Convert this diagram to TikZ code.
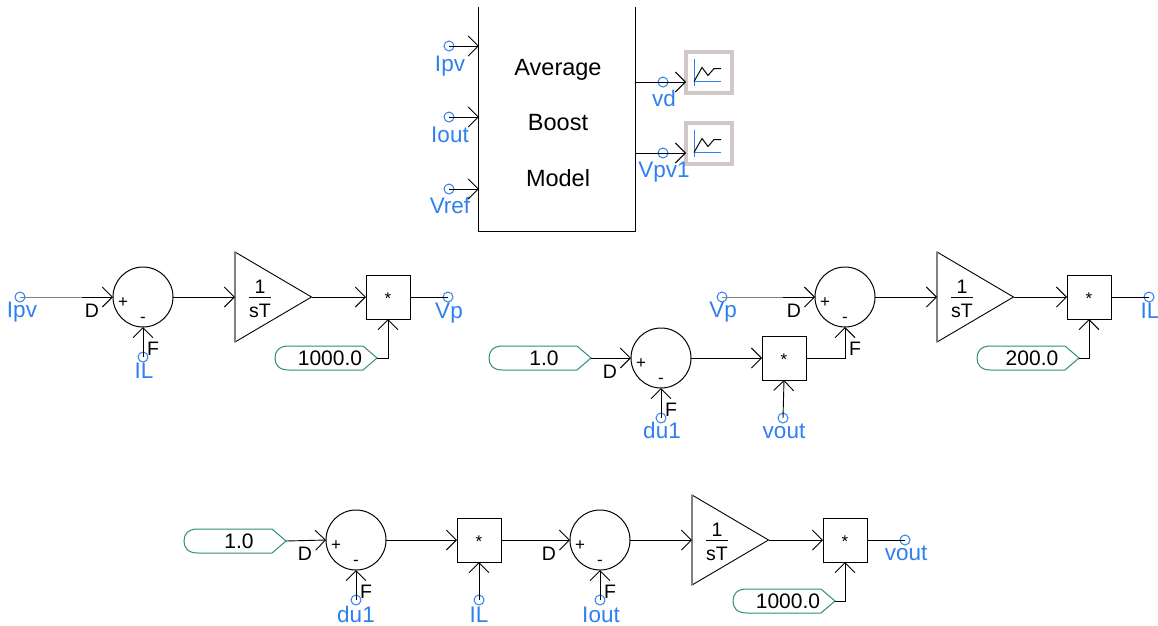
\documentclass[tikz,border=0pt]{standalone}
\usepackage{fontspec}
\setmainfont{Liberation Sans}
\usetikzlibrary{arrows.meta,shapes.geometric}
\definecolor{termblue}{RGB}{46,127,240}
\definecolor{constteal}{RGB}{46,139,125}
\definecolor{metergray}{RGB}{207,200,198}
\tikzset{
  wire/.style = {-{Straight Barb[length=10pt,width=20pt]},black,line width=.9pt},
  term/.style = {circle, draw=termblue, line width=1pt, minimum size=10pt, inner sep=0pt},
  termtext/.style = {anchor=base, inner sep=0pt, termblue, font=\fontsize{22.5}{25}\selectfont},
  blacktext/.style = {inner sep=0pt, black, font=\fontsize{21}{24}\selectfont},
  lettertext/.style = {inner sep=0pt, black, font=\fontsize{19.5}{22}\selectfont},
  signtext/.style = {inner sep=0pt, black, font=\fontsize{17}{20}\selectfont},
  sumnode/.style = {circle, draw=black, line width=1pt, minimum size=60pt, inner sep=0pt, outer sep=0pt},
  prodnode/.style = {rectangle, draw=black, line width=.9pt, minimum size=44pt, inner sep=0pt, outer sep=0pt},
  intnode/.style = {isosceles triangle, isosceles triangle stretches, draw=black, line width=.9pt,
    minimum width=90pt, minimum height=76.5pt, inner sep=0pt, outer sep=0pt, anchor=lower side},
  meternode/.style = {rectangle, draw=metergray, line width=4pt, minimum width=46pt, minimum height=41pt,
    inner sep=0pt, outer sep=0pt},
  constline/.style = {draw=constteal, line width=1pt},
  constwire/.style = {black, line width=.9pt},
}
\begin{document}
\begin{tikzpicture}[x=1pt,y=-1pt]
  \useasboundingbox (0,0) rectangle (1158,625);

  % average model block
  \node[inner sep=0pt, minimum width=156pt, minimum height=224pt] (mod) at (557,119) {};
  \node[inner sep=0pt, align=center, font=\fontsize{23.5}{55.5}\selectfont] (modtext) at (558,123) {Average\\Boost\\Model};
  \draw[black, line width=1pt] (mod.north west) -- (mod.south west) -- (mod.south east) -- (mod.north east);

  % scopes
  \foreach \x/\y/\n in {709/72.5/1, 709/143.5/2}{
    \node[meternode] (m\n) at (\x,\y) {};
    \draw[termblue, line width=1pt] (\x-15,\y-14) -- (\x-15,\y+13);
    \draw[termblue, line width=1pt] (\x-15,\y+9) -- (\x+12,\y+9);
    \draw[black, line width=1pt] (\x-15,\y+9) -- (\x-7,\y-5) -- (\x-1,\y+3) -- (\x+5,\y-4) -- (\x+12,\y-4);
  }

  % terminals
  \foreach \place/\x/\lab/\txt in {{(449,46)/1/(450,71)/Ipv}, {(449,117)/2/(450,142)/Iout},
    {(449,189)/3/(450,213)/Vref}, {(663,82)/4/(664,106)/vd}, {(663,153)/5/(664,177)/Vpv1},
    {(20,297)/6/(22,317)/Ipv}, {(143,357)/7/(144,378)/IL}, {(448,297)/8/(449,318)/Vp},
    {(722,297)/9/(723,317)/Vp}, {(661,418)/10/(662,438)/du1}, {(783,418)/11/(784,438)/vout},
    {(1149,297)/12/(1150,318)/IL}, {(356,600)/13/(356,622)/du1}, {(479,600)/14/(479,622)/IL},
    {(600,600)/15/(601,622)/Iout}, {(905,540)/16/(906,560)/vout}}{
    \node[term] (t\x) at \place {};
    \node[termtext] (l\x) at \lab {\txt};
  }

  % summing junctions
  \foreach \x/\y/\n in {143/297/1, 845/297/2, 661/358/3, 356/540/4, 600/540/5}{
    \node[sumnode] (s\n) at (\x,\y) {};
    \node[signtext] (p\n) at (\x-20,\y+6) {+};
    \node[signtext] (n\n) at (\x,\y+23) {-};
    \node[lettertext] (d\n) at (\x-51,\y+14) {D};
    \node[lettertext] (f\n) at (\x+10,\y+52) {F};
  }

  % multipliers
  \foreach \x/\y/\n in {388/297/1, 1089/297/2, 784/358/3, 479/540/4, 845/540/5}{
    \node[prodnode] (b\n) at (\x,\y) {};
    \node[signtext] (c\n) at (\x,\y+2) {*};
  }

  % integrators
  \foreach \x/\y/\n in {235/297/1, 937/297/2, 692/540/3}{
    \node[intnode] (i\n) at (\x,\y) {};
    \draw[gray, line width=1.6pt] (i\n.left corner) -- (i\n.right corner);
    \node[lettertext] (o\n) at (\x+25,\y-10) {1};
    \node[lettertext] (q\n) at (\x+25,\y+14) {sT};
    \draw[black, line width=1pt] (\x+14,\y) -- (\x+36,\y);
  }

  % constants
  \foreach \x/\y/\n/\txt in {377/358/1/1000.0, 591/358/2/1.0, 1079/358/3/200.0,
    286/541/4/1.0, 835/601/5/1000.0}{
    \draw[constline] (\x,\y) -- (\x-14,\y-12) -- (\x-88,\y-12)
      .. controls (\x-98,\y-12) and (\x-102,\y-7) .. (\x-102,\y)
      .. controls (\x-102,\y+7) and (\x-98,\y+12) .. (\x-88,\y+12)
      -- (\x-14,\y+12) -- cycle;
    \coordinate (k\n) at (\x,\y);
    \node[blacktext] (v\n) at (\x-47,\y) {\txt};
  }

  % model block
  \path[wire] (t1.center) edge (t1.center -| mod.west);
  \path[wire] (t2.center) edge (t2.center -| mod.west);
  \path[wire] (t3.center) edge (t3.center -| mod.west);
  \path[wire] (t4.center -| mod.east) edge (t4.center -| m1.west);
  \path[wire] (t5.center -| mod.east) edge (t5.center -| m2.west);
  % first row
  \coordinate (j1) at (82,297);
  \path[constwire, gray] (t6.center) edge (j1);
  \path[wire] (j1) edge (s1.west);
  \path[wire] (t7.center) edge (s1.south);
  \path[wire] (s1.east) edge (i1.lower side);
  \path[wire] (i1.apex) edge (b1.west);
  \path[constwire] (b1.east) edge (t8.center);
  \draw[wire] (k1) -| (b1.south);
  % second row
  \path[wire] (k2) edge (s3.west);
  \path[wire] (t10.center) edge (s3.south);
  \path[wire] (s3.east) edge (b3.west);
  \path[wire] (t11.center) edge (b3.south);
  \draw[wire] (b3.east) -| (s2.south);
  \coordinate (j2) at (783,297);
  \path[constwire, gray] (t9.center) edge (j2);
  \path[wire] (j2) edge (s2.west);
  \path[wire] (s2.east) edge (i2.lower side);
  \path[wire] (i2.apex) edge (b2.west);
  \path[constwire] (b2.east) edge (t12.center);
  \draw[wire] (k3) -| (b2.south);
  % third row
  \path[wire] (k4) edge (s4.west);
  \path[wire] (t13.center) edge (s4.south);
  \path[wire] (s4.east) edge (b4.west);
  \path[wire] (t14.center) edge (b4.south);
  \path[wire] (b4.east) edge (s5.west);
  \path[wire] (t15.center) edge (s5.south);
  \path[wire] (s5.east) edge (i3.lower side);
  \path[wire] (i3.apex) edge (b5.west);
  \path[constwire] (b5.east) edge (t16.center);
  \draw[wire] (k5) -| (b5.south);
\end{tikzpicture}
\end{document}
